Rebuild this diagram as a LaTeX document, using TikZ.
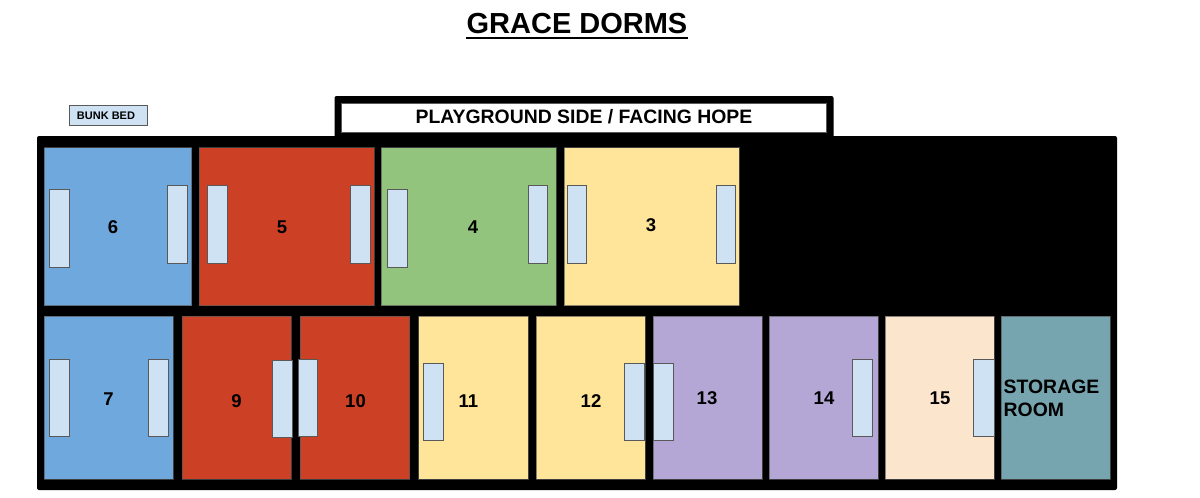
\documentclass[tikz,border=0pt]{standalone}
\usepackage{fontspec}
\setmainfont{Liberation Sans}
\definecolor{rblue}{HTML}{6FA8DC}
\definecolor{rred}{HTML}{CC4125}
\definecolor{rgreen}{HTML}{93C47D}
\definecolor{ryellow}{HTML}{FFE599}
\definecolor{rpurple}{HTML}{B4A7D6}
\definecolor{rpeach}{HTML}{FCE5CD}
\definecolor{rteal}{HTML}{76A5AF}
\definecolor{rbunk}{HTML}{CFE2F3}
\definecolor{redge}{HTML}{595959}
\newcommand{\fs}[1]{\fontsize{#1}{#1}\selectfont\bfseries}
\tikzset{
  roombox/.style={draw=redge,draw opacity=0.7,line width=0.5pt},
  bunkbox/.style={draw=redge,line width=0.6pt,fill=rbunk},
  wallbox/.style={fill=black,rounded corners=2pt},
  numlabel/.style={inner sep=0pt,font=\fs{18.5},text=black},
}
\newcommand{\room}[5]{\path[roombox,fill=#5] (#1,#2) rectangle (#3,#4);}
\newcommand{\bunk}[4]{\path[bunkbox] (#1,#2) rectangle (#3,#4);}
\begin{document}
\begin{tikzpicture}[x=1pt,y=-1pt]
\useasboundingbox[fill=white] (0,0) rectangle (1200,498);
% title
\node[anchor=base,inner sep=0pt,font=\fs{29}] (title) at (577,33.8) {GRACE DORMS};
\draw[line width=2pt] (title.base west |- 0,38.2) -- (title.base east |- 0,38.2);
% walls
\path[wallbox] (334.5,96) rectangle (833.5,145);
\path[wallbox] (37,136) rectangle (1117,490);
\path[draw=redge,line width=0.5pt,fill=white] (341.3,103.7) rectangle (826,132.4);
\node[inner sep=0pt,font=\fs{19.4}] (side) at (584,117) {PLAYGROUND SIDE / FACING HOPE};
% legend
\path[draw=redge,line width=0.6pt,fill=rbunk] (69.3,105.3) rectangle (147.3,125.3);
\node[inner sep=0pt,font=\fs{11}] (legend) at (106,116) {BUNK BED};
% top rooms
\room{44}{147.7}{191.7}{305.5}{rblue}
\room{199}{147.7}{374.2}{305.5}{rred}
\room{381.2}{147.7}{556}{305.5}{rgreen}
\room{564}{147.7}{738.8}{305.5}{ryellow}
% bottom rooms
\room{44}{316.3}{172.8}{479.2}{rblue}
\room{182.3}{316.3}{290.8}{479.2}{rred}
\room{300.3}{316.3}{409.5}{479.2}{rred}
\room{418.7}{316.3}{527.8}{479.2}{ryellow}
\room{536.3}{316.3}{644.8}{479.2}{ryellow}
\room{653}{316.3}{762}{479.2}{rpurple}
\room{769.3}{316.3}{877.8}{479.2}{rpurple}
\room{885.3}{316.3}{993.8}{479.2}{rpeach}
\room{1001.3}{316.3}{1109.8}{479.2}{rteal}
% bunks
\bunk{49.3}{189.3}{69}{267}
\bunk{167.3}{185.7}{187.3}{263.3}
\bunk{207.7}{185.7}{227.3}{263.3}
\bunk{350.7}{185.7}{370.7}{263.3}
\bunk{387.3}{189.3}{407}{267}
\bunk{528}{185.7}{547.5}{263.3}
\bunk{567}{185.7}{586.5}{263.3}
\bunk{716}{185.7}{735.5}{263.3}
\bunk{49.3}{359.3}{69}{436.3}
\bunk{148.7}{359.3}{168.3}{436.3}
\bunk{272}{360.7}{291.8}{437.3}
\bunk{298.3}{359.3}{317.3}{436.3}
\bunk{423.3}{363}{443.7}{440.3}
\bunk{624.3}{363}{644.3}{440.3}
\bunk{653.7}{363}{673.7}{440.3}
\bunk{852.3}{359.3}{872.7}{436.3}
\bunk{973.7}{359.3}{994}{436.3}
% labels
\node[numlabel] (n6) at (113,227) {6};
\node[numlabel] (n5) at (282,227) {5};
\node[numlabel] (n4) at (473,227) {4};
\node[numlabel] (n3) at (651,225) {3};
\node[numlabel] (n7) at (108.5,399.5) {7};
\node[numlabel] (n9) at (236.5,401.5) {9};
\node[numlabel] (n10) at (355.5,401.5) {10};
\node[numlabel] (n11) at (468.5,401.5) {11};
\node[numlabel] (n12) at (591,401.5) {12};
\node[numlabel] (n13) at (707,398) {13};
\node[numlabel] (n14) at (824,398) {14};
\node[numlabel] (n15) at (940,398) {15};
\node[anchor=base west,inner sep=0pt,font=\fs{19.4},align=left] (store) at (1003.5,416.3) {STORAGE\\[3.7pt]ROOM};
\end{tikzpicture}
\end{document}
